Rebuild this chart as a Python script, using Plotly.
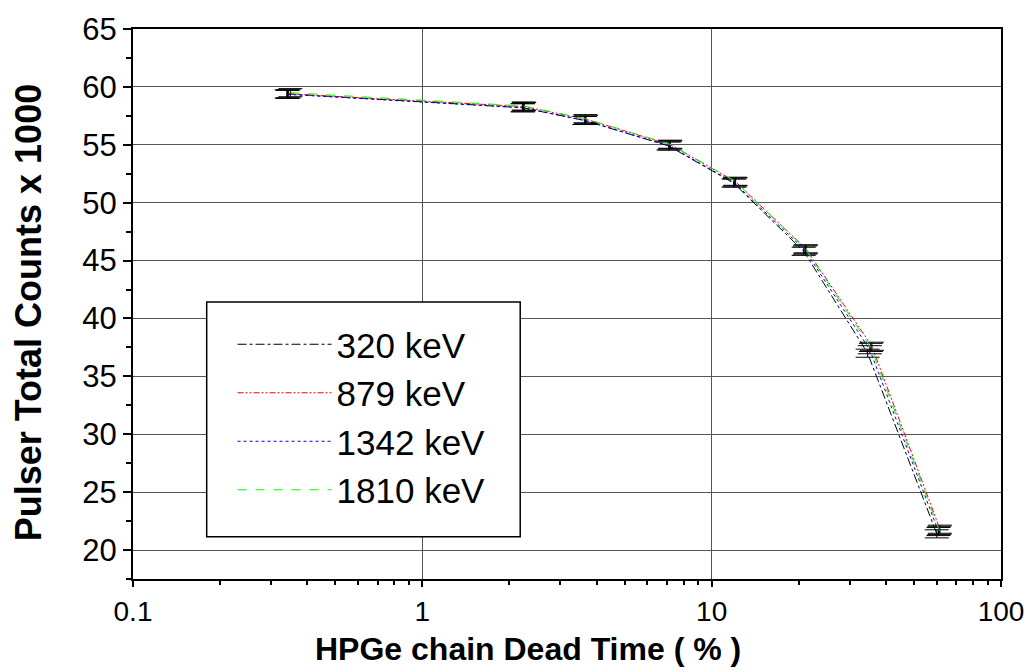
import plotly.graph_objects as go

# Data (dead time in %, pulser counts in thousands)
series_names = ["320 keV", "879 keV", "1342 keV", "1810 keV"]
x_320 = [0.34, 2.22, 3.63, 7.10, 11.9, 20.8, 34.6, 60.0]
y_320 = [59.4, 58.2, 57.1, 54.9, 51.7, 45.8, 37.0, 21.4]
x_879 = [0.345, 2.25, 3.68, 7.20, 12.1, 21.2, 35.8, 61.5]
y_879 = [59.4, 58.3, 57.2, 55.0, 51.8, 46.0, 37.6, 21.8]
x_1342 = [0.342, 2.23, 3.65, 7.15, 12.0, 21.0, 35.2, 60.8]
y_1342 = [59.35, 58.2, 57.1, 54.9, 51.7, 45.9, 37.3, 21.6]
x_1810 = [0.35, 2.24, 3.66, 7.18, 12.05, 21.1, 35.5, 61.2]
y_1810 = [59.5, 58.35, 57.25, 55.05, 51.85, 46.0, 37.5, 21.7]
err = [0.35, 0.35, 0.35, 0.35, 0.35, 0.35, 0.35, 0.35]

x_major_ticks = [0.1, 1, 10, 100]
x_tick_labels = ["0.1", "1", "10", "100"]
x_minor_ticks = [m * d for d in (0.1, 1, 10) for m in range(2, 10)]

x_title = "HPGe chain Dead Time ( % )"
y_title = "Pulser Total Counts x 1000"

xs = [x_320, x_879, x_1342, x_1810]
ys = [y_320, y_879, y_1342, y_1810]
colors = ["#000000", "#ff0000", "#0000ff", "#00ff00"]
dashes = ["dashdot", "6px,2px,2px,2px,2px,2px", "dot", "dash"]

FONT = "Liberation Sans, Arial, sans-serif"

fig = go.Figure()
for name, x, y, c, d in zip(series_names, xs, ys, colors, dashes):
    fig.add_trace(go.Scatter(
        x=x, y=y, name=name, mode="lines",
        line=dict(color=c, width=1, dash=d),
        error_y=dict(type="data", array=err, visible=True,
                     color="black", thickness=1, width=12),
    ))

# legend frame
fig.add_shape(type="rect", xref="paper", yref="paper",
              x0=0.0849, x1=0.4461, y0=0.0768, y1=0.5036,
              line=dict(color="black", width=1.5), fillcolor="white",
              layer="above")

# axis titles (placed as in the reference)
fig.add_annotation(text="<b>" + x_title + "</b>", xref="paper", yref="paper",
                   x=0.455, y=-0.1268, xanchor="center", yanchor="middle",
                   showarrow=False, font=dict(size=32, family=FONT, color="black"))
fig.add_annotation(text="<b>" + y_title + "</b>", xref="paper", yref="paper",
                   x=-0.1204, y=0.484, xanchor="center", yanchor="middle",
                   textangle=-90, showarrow=False,
                   font=dict(size=36, family=FONT, color="black"))

fig.update_layout(
    width=1036, height=672,
    margin=dict(l=133, r=31, t=19, b=93),
    paper_bgcolor="white", plot_bgcolor="white",
    font=dict(family=FONT, color="black", size=31),
    showlegend=True,
    legend=dict(
        x=0.1147, y=0.48, xanchor="left", yanchor="top",
        bgcolor="rgba(0,0,0,0)", borderwidth=0,
        font=dict(size=35, family=FONT),
        itemwidth=94, tracegroupgap=0,
    ),
)

fig.update_xaxes(
    type="log", range=[-1, 2],
    tickvals=x_major_ticks, ticktext=x_tick_labels,
    ticks="outside", ticklen=6, tickwidth=2, tickcolor="black",
    minor=dict(tickvals=x_minor_ticks, ticks="outside", ticklen=4,
               tickwidth=2, tickcolor="black", showgrid=False),
    showline=True, linecolor="black", linewidth=2, mirror=True,
    showgrid=True, gridcolor="#555555", gridwidth=1,
    zeroline=False,
    tickfont=dict(size=28),
)
fig.update_yaxes(
    range=[17.5, 65], tick0=20, dtick=5,
    ticks="outside", ticklen=8, tickwidth=2, tickcolor="black",
    minor=dict(ticks="outside", ticklen=5, tickwidth=2, tickcolor="black",
               dtick=2.5, tick0=17.5, showgrid=False),
    showline=True, linecolor="black", linewidth=2, mirror=True,
    showgrid=True, gridcolor="#555555", gridwidth=1,
    zeroline=False,
    tickfont=dict(size=31),
)

fig.write_html("out.html")
